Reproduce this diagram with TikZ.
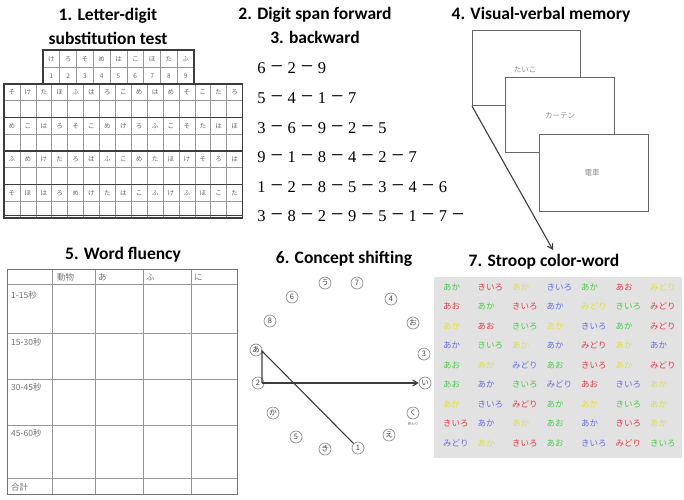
\documentclass[tikz,border=0pt]{standalone}
\usepackage{fontspec}
\setmainfont{Liberation Serif}
\newfontfamily\ttl{Carlito}
\newfontfamily\jp{Noto Sans CJK JP}
\usetikzlibrary{arrows.meta}
\definecolor{sg}{RGB}{70,205,70}
\definecolor{sr}{RGB}{225,60,70}
\definecolor{sy}{RGB}{225,222,60}
\definecolor{sb}{RGB}{100,110,225}
\definecolor{gline}{RGB}{150,150,150}
\definecolor{dline}{RGB}{60,60,60}
\definecolor{boxbg}{RGB}{226,226,226}
\begin{document}
\begin{tikzpicture}[x=1pt,y=-1pt,
  ttl/.style={font=\ttl\bfseries\fontsize{17.5}{20}\selectfont, inner sep=0pt},
  gk/.style={font=\jp\fontsize{6.5}{7}\selectfont, text=black!60, inner sep=0pt},
  dg/.style={font=\fontsize{16.5}{18}\selectfont, inner sep=0pt, anchor=base},
  dm/.style={font=\fontsize{22}{22}\selectfont, inner sep=0pt, anchor=base},
  card/.style={draw=black!60, line width=1.1pt, fill=white},
  cardtxt/.style={font=\jp\fontsize{7.5}{8}\selectfont, text=black!45, inner sep=0pt},
  wf/.style={font=\jp\fontsize{8.5}{9}\selectfont, text=black!55, inner sep=0pt, anchor=west},
  cs/.style={circle, draw=black!45, line width=0.7pt, minimum size=12pt, inner sep=0pt, font=\jp\fontsize{7.5}{8}\selectfont, text=black!75, fill=white},
  sw/.style={font=\jp\fontsize{8.5}{9}\selectfont, inner sep=0pt, anchor=west},
  conn/.style={draw=dline, line width=1.1pt},
  arr/.style={conn, -{Straight Barb[length=5pt, width=6pt]}}]
\useasboundingbox (0,0) rectangle (684,499);

% ---------- titles ----------
\node[ttl] (t1a) at (108,16) {1. Letter-digit};
\node[ttl] (t1b) at (108,38) {substitution test};
\node[ttl] (t2) at (315,15) {2. Digit span forward};
\node[ttl] (t3) at (315,37) {3. backward};
\node[ttl] (t4) at (541,15) {4. Visual-verbal memory};
\node[ttl] (t5) at (123,255) {5. Word fluency};
\node[ttl] (t6) at (344,259) {6. Concept shifting};
\node[ttl] (t7) at (544,262) {7. Stroop color-word};

% ---------- 1. letter-digit substitution ----------
% key table
\foreach \k in {1,...,8} \draw[gline, line width=0.6pt] (43+16.78*\k,50) -- (43+16.78*\k,84);
\draw[gline, line width=0.6pt] (43,67) -- (194,67);
\draw[dline, line width=1.2pt] (43,50) rectangle (194,84);
\foreach \ch [count=\c] in {け,ろ,そ,め,は,こ,ほ,た,ふ}
  \node[gk] (kh-\c) at (43+16.78*\c-8.39,59) {\ch};
\foreach \c in {1,...,9}
  \node[gk] (kd-\c) at (43+16.78*\c-8.39,76) {\c};
% main grid
\foreach \k in {1,...,14} \draw[gline, line width=0.6pt] (4+15.9*\k,84) -- (4+15.9*\k,218);
\foreach \k in {1,3,5,7} \draw[gline, line width=0.6pt] (4,84+16.75*\k) -- (242.5,84+16.75*\k);
\foreach \k in {2,4,6} \draw[dline, line width=1.5pt] (4,84+16.75*\k) -- (242.5,84+16.75*\k);
\draw[dline, line width=1.2pt] (4,84) rectangle (242.5,218);
\draw[dline, line width=1pt] (4,215.5) -- (242.5,215.5);
\foreach \ch [count=\c] in {そ,け,た,ほ,ふ,は,ろ,こ,め,は,め,そ,こ,た,ろ}
  \node[gk] (g1-\c) at (4+15.9*\c-7.95,92.4) {\ch};
\foreach \ch [count=\c] in {め,こ,は,ろ,そ,こ,め,け,ろ,ふ,こ,そ,た,は,ほ}
  \node[gk] (g2-\c) at (4+15.9*\c-7.95,125.9) {\ch};
\foreach \ch [count=\c] in {ふ,め,け,た,ろ,は,ふ,こ,め,た,ほ,け,そ,ろ,は}
  \node[gk] (g3-\c) at (4+15.9*\c-7.95,159.4) {\ch};
\foreach \ch [count=\c] in {そ,ほ,は,ろ,め,け,た,は,こ,ふ,け,ふ,ほ,こ,た}
  \node[gk] (g4-\c) at (4+15.9*\c-7.95,192.9) {\ch};

% ---------- 2./3. digit span ----------
\foreach \row/\yy [count=\r] in {{6,2,9}/68,{5,4,1,7}/98,{3,6,9,2,5}/128,{9,1,8,4,2,7}/157,{1,2,8,5,3,4,6}/187,{3,8,2,9,5,1,7}/216}{
  \foreach \d [count=\i] in \row {
    \node[dg] (ds-\r-\i) at (261.5+30.25*\i-30.25,\yy+5.6) {\d};
    \ifnum\i>1
      \node[dm] (dm-\r-\i) at (261.5+30.25*\i-30.25-15,\yy+5.2) {−};
    \fi
  }
}
\node[dm] (dm-6-8) at (458,216+5.2) {−};

% ---------- 4. visual-verbal memory ----------
\node[card, minimum width=108pt, minimum height=75pt, anchor=north west] (c1) at (472,30) {};
\node[cardtxt] (c1t) at (525,70) {たいこ};
\node[card, minimum width=109pt, minimum height=75pt, anchor=north west] (c2) at (505,77) {};
\node[cardtxt] (c2t) at (560,116) {カーテン};
\node[card, minimum width=109pt, minimum height=77pt, anchor=north west] (c3) at (539,134) {};
\node[cardtxt] (c3t) at (592,173) {電車};
\coordinate (arrEnd) at (553,250);
\draw[arr] (c1.south west) -- (arrEnd);

% ---------- 5. word fluency ----------
\foreach \xx in {52,95,143,191} \draw[gline, line width=0.8pt] (\xx,269) -- (\xx,494);
\foreach \yy in {284,333,379,425,478} \draw[gline, line width=0.8pt] (7,\yy) -- (237,\yy);
\draw[black!55, line width=1pt] (7,269) rectangle (237,494);
\node[wf] (wh1) at (57,277) {動物};
\node[wf] (wh2) at (98,277) {あ};
\node[wf] (wh3) at (146,277) {ふ};
\node[wf] (wh4) at (194,277) {に};
\node[wf] (wr1) at (11,295) {1-15秒};
\node[wf] (wr2) at (11,342) {15-30秒};
\node[wf] (wr3) at (11,387) {30-45秒};
\node[wf] (wr4) at (11,433) {45-60秒};
\node[wf] (wr5) at (11,487) {合計};

% ---------- 6. concept shifting ----------
\node[cs] (nu) at (325,283) {う};
\node[cs] (n7) at (357,283) {7};
\node[cs] (n6) at (292,297) {6};
\node[cs] (n4) at (391,299) {4};
\node[cs] (n8) at (270,321) {8};
\node[cs] (no) at (413,323) {お};
\node[cs] (n3) at (424,354) {3};
\node[cs] (nka) at (273,413) {か};
\node[cs] (nku) at (413,413) {く};
\node[font=\jp\fontsize{3.5}{4}\selectfont, text=black!60, inner sep=0pt] (owari) at (413,424) {終わり};
\node[cs] (n5) at (296,437) {5};
\node[cs] (ne) at (389,435) {え};
\node[cs] (nki) at (325,449) {き};
\node[cs] (n1) at (358,448) {1};
\node[cs] (na) at (256,350) {あ};
\node[cs] (n2) at (258,383) {2};
\node[cs] (ni) at (425,383) {い};
\coordinate (ca) at (262,351);
\coordinate (cb) at (262,383);
\draw[conn] (n1) -- (ca) -- (cb);
\draw[arr] (cb) -- (ni);

% ---------- 7. stroop ----------
\fill[boxbg] (434,277) rectangle (682,458) coordinate (sbox);
\foreach \row [count=\r] in {
 {あか/sg,きいろ/sr,あか/sy,きいろ/sb,あか/sg,あお/sr,みどり/sy},
 {あお/sr,あか/sg,きいろ/sr,あか/sb,みどり/sy,きいろ/sg,みどり/sr},
 {あか/sy,あお/sr,きいろ/sg,あか/sy,きいろ/sb,あか/sg,みどり/sr},
 {あか/sb,きいろ/sg,あか/sy,あか/sb,みどり/sr,あか/sy,あか/sb},
 {あお/sg,あか/sy,みどり/sb,あお/sg,きいろ/sr,あか/sy,みどり/sr},
 {あお/sg,あか/sb,きいろ/sg,みどり/sb,あお/sr,きいろ/sb,あか/sy},
 {あか/sy,きいろ/sb,みどり/sr,あか/sg,あか/sy,きいろ/sg,あか/sy},
 {きいろ/sr,あか/sb,あか/sy,あお/sg,あか/sb,きいろ/sr,あか/sy},
 {みどり/sb,あか/sy,きいろ/sr,あお/sg,きいろ/sb,みどり/sr,きいろ/sg}}{
  \foreach \w/\cl [count=\c] in \row
    \node[sw, text=\cl] (sw-\r-\c) at (443+34.5*\c-34.5,287+19.5*\r-19.5) {\w};
}
\end{tikzpicture}
\end{document}
